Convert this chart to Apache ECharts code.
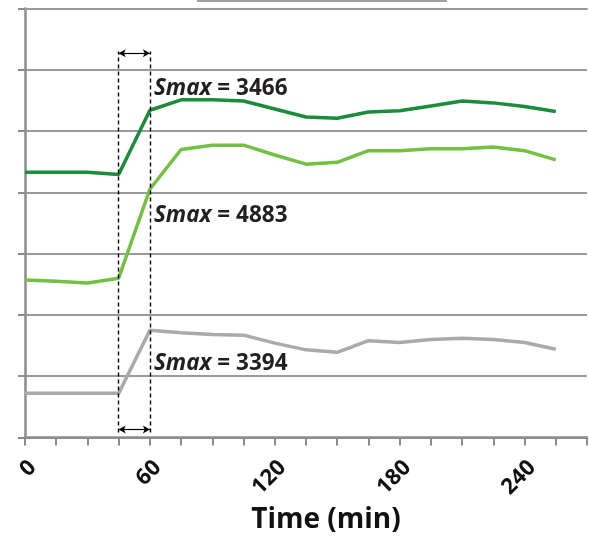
<!DOCTYPE html>
<html>
<head>
<meta charset="utf-8">
<script src="https://cdn.jsdelivr.net/npm/echarts@6/dist/echarts.min.js"></script>
<style>html,body{margin:0;padding:0;background:#fff;}#c{width:589px;height:538px;}</style>
</head>
<body>
<div id="c"></div>
<script>
const times = [0,15,30,45,60,75,90,105,120,135,150,165,180,195,210,225,240,255];
const darkGreen = [4.33,4.33,4.33,4.29,5.34,5.51,5.51,5.49,5.36,5.23,5.21,5.31,5.33,5.41,5.49,5.46,5.40,5.32];
const lightGreen = [2.57,2.55,2.52,2.60,4.05,4.70,4.77,4.77,4.61,4.46,4.49,4.68,4.68,4.71,4.71,4.74,4.68,4.53];
const grayLine = [0.72,0.72,0.72,0.72,1.75,1.71,1.68,1.67,1.54,1.43,1.39,1.58,1.55,1.60,1.62,1.60,1.55,1.44];
const xTickLabels = [0,60,120,180,240];
const smaxLabels = ['3466','4883','3394'];
const labelY = [5.69,3.62,1.20];
const stimStart = 45, stimEnd = 60;

const pair = (xs, ys) => xs.map((x,i)=>[x, ys[i]]);
const fontFam = '"Open Sans", "Noto Sans", sans-serif';
const rich = {
  a:{fontFamily:fontFam,fontSize:22.5,fontWeight:'bold',fontStyle:'italic',color:'#231f20'},
  b:{fontFamily:fontFam,fontSize:22.5,fontWeight:'bold',color:'#231f20'}
};
function smaxPoint(i){
  return {
    symbol:'circle', symbolSize:0, silent:true,
    label:{show:true,position:'right',distance:4,formatter:'{a|Smax}{b| = '+smaxLabels[i]+'}',rich:rich},
    data:[{coord:[stimEnd,labelY[i]]}]
  };
}
const dashStyle = {color:'#000',width:1.4,type:[4,3]};
const arrowStyle = {color:'#000',width:1.2,type:'solid'};

const chart = echarts.init(document.getElementById('c'),null,{renderer:'canvas'});
chart.setOption({
  animation:false,
  grid:{left:25,right:2,top:8.5,bottom:100.5,containLabel:false,outerBoundsMode:'none'},
  graphic:[{type:'rect',shape:{x:197,y:0,width:250,height:2},style:{fill:'#a0a0a0'}}],
  xAxis:[{
    type:'value',min:0,max:270,interval:15,
    axisLine:{show:true,lineStyle:{color:'#8c8c8c',width:2.5}},
    axisTick:{show:true,length:8,lineStyle:{color:'#8c8c8c',width:2}},
    splitLine:{show:false},
    axisLabel:{
      rotate:45,margin:19,verticalAlign:'top',fontFamily:fontFam,fontSize:22,fontWeight:'bold',color:'#111',
      formatter:v=> xTickLabels.indexOf(v)>=0 ? String(v) : ''
    },
    name:'Time (min)',nameLocation:'middle',nameGap:68,
    nameTextStyle:{fontFamily:fontFam,fontSize:28,fontWeight:'bold',color:'#111',padding:[0,0,0,40]}
  },{
    type:'value',min:0,max:270,position:'top',
    axisLine:{show:true,lineStyle:{color:'#9a9a9a',width:2}},
    axisTick:{show:false},axisLabel:{show:false},splitLine:{show:false}
  }],
  yAxis:{
    type:'value',min:0,max:7,interval:1,
    axisLine:{show:true,lineStyle:{color:'#8c8c8c',width:2.5}},
    axisTick:{show:true,length:7,lineStyle:{color:'#8c8c8c',width:2}},
    axisLabel:{show:false},
    splitLine:{show:true,lineStyle:{color:'#9a9a9a',width:2}}
  },
  series:[
    {type:'line',data:pair(times,darkGreen),symbol:'none',lineStyle:{color:'#1a8c3c',width:3.5},itemStyle:{color:'#1a8c3c'},markPoint:smaxPoint(0)},
    {type:'line',data:pair(times,lightGreen),symbol:'none',lineStyle:{color:'#74c043',width:3.5},itemStyle:{color:'#74c043'},markPoint:smaxPoint(1)},
    {type:'line',data:pair(times,grayLine),symbol:'none',lineStyle:{color:'#a8aaad',width:3.5},itemStyle:{color:'#a8aaad'},markPoint:smaxPoint(2),
     markLine:{
       silent:true,symbol:['none','none'],label:{show:false},animation:false,
       data:[
         [{coord:[stimStart,0.08],lineStyle:dashStyle},{coord:[stimStart,6.3]}],
         [{coord:[stimEnd,0.08],lineStyle:dashStyle},{coord:[stimEnd,6.3]}],
         [{coord:[stimStart,6.27],symbol:'arrow',symbolSize:[6,7],lineStyle:arrowStyle},{coord:[stimEnd,6.27],symbol:'arrow',symbolSize:[6,7]}],
         [{coord:[stimStart,0.13],symbol:'arrow',symbolSize:[6,7],lineStyle:arrowStyle},{coord:[stimEnd,0.13],symbol:'arrow',symbolSize:[6,7]}]
       ]
     }}
  ]
});
</script>
</body>
</html>
